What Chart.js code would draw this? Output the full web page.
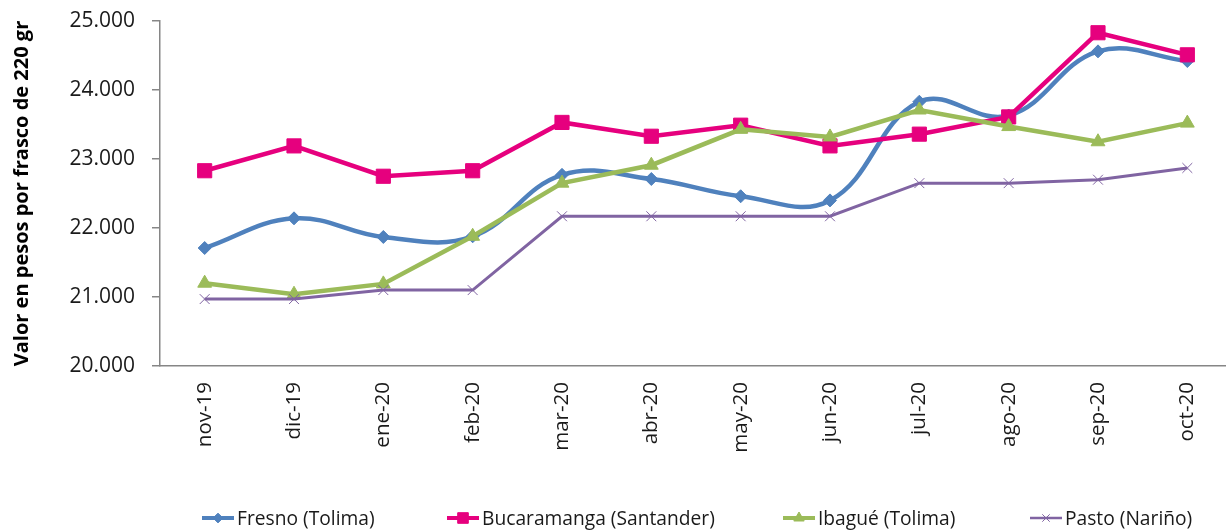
<!DOCTYPE html>
<html>
<head>
<meta charset="utf-8">
<script src="https://cdn.jsdelivr.net/npm/chart.js@4/dist/chart.umd.min.js"></script>
<style>
  html, body { margin: 0; padding: 0; background: #fff; overflow: hidden; width: 1226px; height: 531px; }
  #wrap { width: 1226px; height: 531px; overflow: hidden; position: relative; }
  #c { display: block; }
</style>
</head>
<body>
<div id="wrap"><canvas id="c" width="1243" height="531" style="width:1243px;height:531px"></canvas></div>
<script>
const categories = ['nov-19','dic-19','ene-20','feb-20','mar-20','abr-20','may-20','jun-20','jul-20','ago-20','sep-20','oct-20'];
const fresno      = [21710, 22140, 21870, 21880, 22770, 22710, 22460, 22400, 23830, 23630, 24560, 24420];
const bucaramanga = [22830, 23190, 22750, 22830, 23530, 23330, 23490, 23190, 23360, 23610, 24830, 24510];
const ibague      = [21200, 21040, 21190, 21880, 22650, 22910, 23430, 23320, 23710, 23470, 23250, 23520];
const pasto       = [20970, 20970, 21100, 21100, 22170, 22170, 22170, 22170, 22650, 22650, 22700, 22870];
const seriesNames = ['Fresno (Tolima)', 'Bucaramanga (Santander)', 'Ibagué (Tolima)', 'Pasto (Nariño)'];
const yMin = 20000, yMax = 25000, yStep = 1000;
const yTitle = 'Valor en pesos por frasco de 220 gr';

function fmt(v) { return String(v).replace(/\B(?=(\d{3})+(?!\d))/g, '.'); }

const datasets = [
  { label: seriesNames[0], data: fresno, borderColor: '#4F81BD', backgroundColor: '#4F81BD',
    borderWidth: 4.5, tension: 0.4, pointStyle: 'rectRot', pointRadius: 6.5, pointBorderWidth: 1, order: 4 },
  { label: seriesNames[1], data: bucaramanga, borderColor: '#E6007E', backgroundColor: '#E6007E',
    borderWidth: 4.5, tension: 0, pointStyle: 'rect', pointRadius: 10, pointBorderWidth: 1, order: 3 },
  { label: seriesNames[2], data: ibague, borderColor: '#9BBB59', backgroundColor: '#9BBB59',
    borderWidth: 4.5, tension: 0, pointStyle: 'triangle', pointRadius: 8, pointBorderWidth: 1, order: 2 },
  { label: seriesNames[3], data: pasto, borderColor: '#8064A2', backgroundColor: '#8064A2',
    borderWidth: 3, tension: 0, pointStyle: 'crossRot', pointRadius: 7, pointBorderWidth: 1, order: 1 }
];

function drawMarker(ctx, style, r, x, y, color) {
  ctx.fillStyle = color; ctx.strokeStyle = color; ctx.lineWidth = 1;
  if (Chart.helpers && Chart.helpers.drawPoint) {
    Chart.helpers.drawPoint(ctx, { pointStyle: style, radius: r, borderWidth: 1, rotation: 0 }, x, y);
    return;
  }
  ctx.beginPath();
  if (style === 'rectRot') { ctx.moveTo(x - r, y); ctx.lineTo(x, y - r); ctx.lineTo(x + r, y); ctx.lineTo(x, y + r); ctx.closePath(); ctx.fill(); }
  else if (style === 'rect') { const s = r * Math.SQRT1_2; ctx.rect(x - s, y - s, 2 * s, 2 * s); ctx.fill(); }
  else if (style === 'triangle') { ctx.moveTo(x, y - r); ctx.lineTo(x + r * 0.866, y + r / 2); ctx.lineTo(x - r * 0.866, y + r / 2); ctx.closePath(); ctx.fill(); }
  else { const s = r * Math.SQRT1_2; ctx.moveTo(x - s, y - s); ctx.lineTo(x + s, y + s); ctx.moveTo(x + s, y - s); ctx.lineTo(x - s, y + s); ctx.stroke(); }
}

const legendPlugin = {
  id: 'bottomLegend',
  afterDraw(chart) {
    const ctx = chart.ctx;
    const y = 518, lineLen = 32, gapText = 3, squeeze = 0.96;
    const itemX = [202, 447, 783, 1030];
    ctx.save();
    ctx.font = '20px "Open Sans"';
    ctx.textBaseline = 'middle';
    chart.data.datasets.forEach((ds, i) => {
      const x = itemX[i];
      ctx.strokeStyle = ds.borderColor;
      ctx.lineWidth = ds.borderWidth > 3.5 ? 4 : 2.5;
      ctx.beginPath(); ctx.moveTo(x, y); ctx.lineTo(x + lineLen, y); ctx.stroke();
      drawMarker(ctx, ds.pointStyle, ds.pointRadius * 0.75, x + lineLen / 2, y, ds.borderColor);
      ctx.save();
      ctx.translate(x + lineLen + gapText, y);
      ctx.scale(squeeze, 1);
      ctx.fillStyle = '#1a1a1a';
      ctx.fillText(ds.label, 0, 1);
      ctx.restore();
    });
    ctx.restore();
  }
};

function noPad(s) { s.paddingTop = 0; s.paddingBottom = 0; s.paddingLeft = 0; s.paddingRight = 0; }

new Chart(document.getElementById('c'), {
  type: 'line',
  data: { labels: categories, datasets },
  plugins: [legendPlugin],
  options: {
    responsive: false,
    maintainAspectRatio: false,
    animation: false,
    devicePixelRatio: 1,
    layout: { padding: { top: 21, right: 0, bottom: 0, left: 0 } },
    plugins: { legend: { display: false }, tooltip: { enabled: false } },
    scales: {
      x: {
        offset: true,
        grid: { display: false, drawTicks: false },
        border: { display: true, color: '#868686', width: 1.5 },
        ticks: { minRotation: 90, maxRotation: 90, autoSkip: false, padding: 16, color: '#1a1a1a',
                 font: { family: '"Open Sans"', size: 20.5 } },
        afterFit(s) { s.height = 165; noPad(s); }
      },
      y: {
        min: yMin, max: yMax,
        grid: { drawOnChartArea: false, drawTicks: true, tickLength: 8, color: '#868686', lineWidth: 1.5 },
        border: { display: true, color: '#868686', width: 1.5 },
        ticks: { stepSize: yStep, padding: 17, color: '#1a1a1a', callback: v => fmt(v),
                 font: { family: '"Open Sans"', size: 21 } },
        title: { display: true, text: yTitle, color: '#000',
                 font: { family: '"Open Sans"', size: 20, weight: 'bold' }, padding: { top: 10, bottom: 0 } },
        afterFit(s) { s.width = 160; noPad(s); }
      }
    }
  }
});
</script>
</body>
</html>
